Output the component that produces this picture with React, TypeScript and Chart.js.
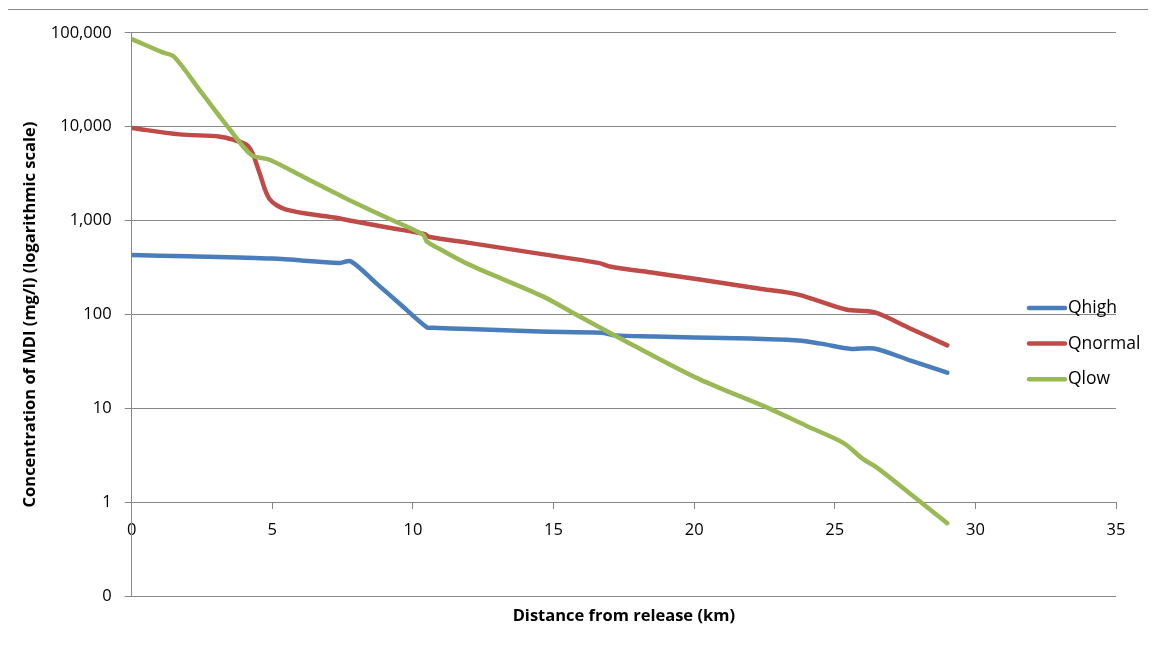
import React, { useEffect, useRef } from "react";
import { Chart, registerables } from "chart.js";

Chart.register(...registerables);

// ---- Data ----
const seriesNames = ["Qhigh", "Qnormal", "Qlow"];
const seriesColors = ["#4A7EBB", "#BE4B48", "#98B954"];

const qHighKm = [0, 2, 5, 7.4, 7.8, 8.7, 9.6, 10.5, 10.7, 12, 14.5, 16.7, 17.2, 18.6, 20, 22, 23.7, 24.5, 25.6, 26.4, 27.7, 29];
const qHighVal = [430, 418, 395, 355, 368, 215, 125, 73, 72.5, 70, 66, 64, 60, 58.5, 57, 55.5, 53, 49, 43, 43.5, 32.3, 24];

const qNormalKm = [0, 1.7, 3.1, 3.6, 4.1, 4.3, 4.55, 4.9, 5.5, 7.2, 7.9, 9.15, 10.4, 10.6, 12, 14.3, 16.6, 17.0, 18.6, 20.2, 22.4, 23.7, 25.4, 26.4, 27.7, 29];
const qNormalVal = [9700, 8300, 7900, 7300, 6400, 5200, 3200, 1700, 1310, 1080, 985, 842, 720, 670, 580, 454, 355, 325, 277, 236, 187, 163, 113, 106, 70.6, 47];

const qLowKm = [0, 1.1, 1.5, 2.5, 3.5, 4.26, 4.9, 6.2, 7.5, 7.9, 9.1, 10.36, 10.5, 11, 12, 14.6, 15.7, 17.9, 20.2, 22.6, 24, 25.3, 26.0, 26.5, 27.75, 29];
const qLowVal = [86000, 62000, 56000, 22800, 9300, 5000, 4450, 2830, 1800, 1570, 1067, 710, 600, 490, 340, 157, 104, 46, 20.4, 10.2, 6.5, 4.3, 2.9, 2.34, 1.19, 0.6];

const yTickValues = [0.1, 1, 10, 100, 1000, 10000, 100000];
const yTickLabels = ["0", "1", "10", "100", "1,000", "10,000", "100,000"];
const xTickStep = 5;

const xTitle = "Distance from release (km)";
const yTitle = "Concentration of MDI (mg/l) (logarithmic scale)";

const GRID = "#878787";
const FONT = "'Open Sans', sans-serif";

const toPoints = (km: number[], v: number[]) => km.map((x, i) => ({ x, y: v[i] }));

const sideLegend = {
  id: "sideLegend",
  afterDraw(chart: any) {
    const { ctx, chartArea } = chart;
    ctx.save();
    chart.data.datasets.forEach((ds: any, i: number) => {
      const y = chartArea.top + 275 + i * 35.7;
      ctx.strokeStyle = ds.borderColor;
      ctx.lineWidth = 4.5;
      ctx.lineCap = "round";
      ctx.beginPath();
      ctx.moveTo(chartArea.right - 87, y);
      ctx.lineTo(chartArea.right - 51, y);
      ctx.stroke();
      ctx.fillStyle = "#000";
      ctx.font = `17.5px ${FONT}`;
      ctx.textBaseline = "middle";
      ctx.textAlign = "left";
      ctx.fillText(ds.label, chartArea.right - 48, y);
    });
    ctx.restore();
  },
};

export default function App() {
  const ref = useRef<HTMLCanvasElement | null>(null);

  useEffect(() => {
    if (!ref.current) return;
    const series = [
      toPoints(qHighKm, qHighVal),
      toPoints(qNormalKm, qNormalVal),
      toPoints(qLowKm, qLowVal),
    ];
    const chart = new Chart(ref.current, {
      type: "line",
      data: {
        datasets: series.map((d, i) => ({
          label: seriesNames[i],
          data: d,
          borderColor: seriesColors[i],
          backgroundColor: seriesColors[i],
          borderWidth: 4.5,
          pointRadius: 0,
          tension: 0.3,
          borderCapStyle: "round",
          borderJoinStyle: "round",
          order: 2 - i,
        })),
      },
      options: {
        animation: false,
        responsive: true,
        maintainAspectRatio: false,
        layout: { padding: { left: 12, top: 13, right: 32, bottom: 38 } },
        font: { family: FONT },
        plugins: {
          legend: { display: false },
          tooltip: { enabled: false },
          title: {
            display: true,
            position: "bottom",
            text: xTitle,
            fullSize: false,
            color: "#000",
            font: { family: FONT, size: 16.5, weight: "bold" },
            padding: { top: 10, bottom: 0 },
          },
        },
        scales: {
          x: {
            type: "linear",
            min: 0,
            max: 35,
            position: { y: 1 } as any,
            ticks: {
              stepSize: xTickStep,
              padding: 12,
              color: "#000",
              font: { family: FONT, size: 16.5 },
              maxRotation: 0,
              autoSkip: false,
            },
            grid: { drawOnChartArea: false, drawTicks: true, tickLength: 6, color: GRID },
            border: { color: GRID, width: 1 },
          },
          y: {
            type: "logarithmic",
            min: 0.1,
            max: 100000,
            afterBuildTicks: (scale: any) => {
              scale.ticks = yTickValues.map((v) => ({ value: v }));
            },
            ticks: {
              padding: 13,
              color: "#000",
              autoSkip: false,
              font: { family: FONT, size: 16.5 },
              callback: (v: any) => {
                const idx = yTickValues.findIndex((t) => Math.abs(Math.log10(t) - Math.log10(Number(v))) < 1e-6);
                return idx >= 0 ? yTickLabels[idx] : "";
              },
            },
            grid: { color: GRID, lineWidth: 1, drawTicks: true, tickLength: 7 },
            border: { color: GRID, width: 1 },
            title: {
              display: true,
              text: yTitle,
              color: "#000",
              font: { family: FONT, size: 16.5, weight: "bold" },
              padding: { top: 0, bottom: -2 },
            },
          },
        },
      },
      plugins: [sideLegend],
    } as any);
    return () => chart.destroy();
  }, []);

  return (
    <div
      style={{
        position: "relative",
        left: -1,
        top: 1,
        width: 1141,
        height: 655,
        boxSizing: "border-box",
        borderLeft: "1px solid #888",
        borderTop: "1px solid #888",
      }}
    >
      <canvas ref={ref} />
    </div>
  );
}
